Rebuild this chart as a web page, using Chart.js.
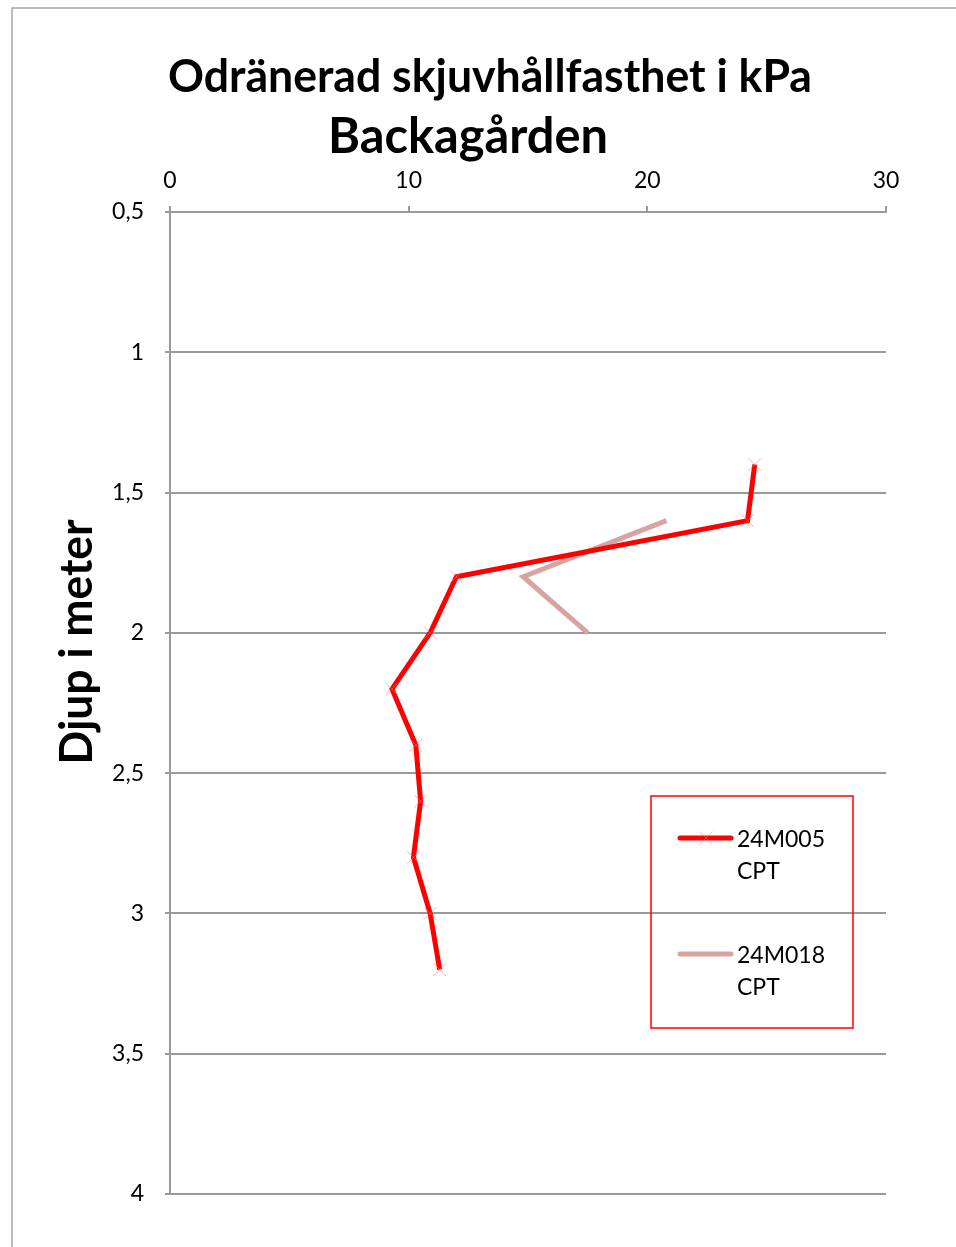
<!DOCTYPE html>
<html>
<head>
<meta charset="utf-8">
<script src="https://cdn.jsdelivr.net/npm/chart.js@4/dist/chart.umd.min.js"></script>
<style>
  html, body { margin: 0; padding: 0; background: #fff; }
  #wrap { position: relative; width: 956px; height: 1247px; }
  canvas { display: block; }
</style>
</head>
<body>
<div id="wrap"><canvas id="c" width="956" height="1247"></canvas></div>
<script>
// ---- data ----
const titleLines = ["Odränerad skjuvhållfasthet i kPa", "Backagården"];
const yAxisTitle = "Djup i meter";
const seriesLabels = ["24M005\nCPT", "24M018\nCPT"];
const depth24M005 = [1.4, 1.6, 1.8, 2.0, 2.2, 2.4, 2.6, 2.8, 3.0, 3.2];
const su24M005 = [24.5, 24.2, 12.0, 10.9, 9.3, 10.3, 10.5, 10.2, 10.9, 11.3];
const depth24M018 = [1.6, 1.8, 2.0];
const su24M018 = [20.8, 14.8, 17.5];
const xTicks = [0, 10, 20, 30];
const yTicks = [0.5, 1, 1.5, 2, 2.5, 3, 3.5, 4];

const toPts = (xs, ys) => xs.map((v, i) => ({ x: v, y: ys[i] }));

const FONT = 'Lato, "Open Sans", sans-serif';
const GRID = '#9a9a9a';

const decorPlugin = {
  id: 'decor',
  beforeDraw(chart) {
    const ctx = chart.ctx;
    ctx.save();
    ctx.fillStyle = '#fff';
    ctx.fillRect(0, 0, chart.width, chart.height);
    ctx.strokeStyle = '#a6a6a6';
    ctx.lineWidth = 1.5;
    ctx.beginPath();
    ctx.moveTo(12, chart.height);
    ctx.lineTo(12, 8);
    ctx.lineTo(chart.width, 8);
    ctx.stroke();
    ctx.restore();
  },
  afterDraw(chart) {
    const ctx = chart.ctx;
    ctx.save();
    ctx.fillStyle = '#000';
    ctx.textAlign = 'center';
    ctx.textBaseline = 'alphabetic';
    ctx.font = 'bold 46px ' + FONT;
    ctx.fillText(titleLines[0], 490, 92, 644);
    ctx.font = 'bold 50px ' + FONT;
    ctx.fillText(titleLines[1], 468, 153, 280);
    ctx.font = 'bold 46px ' + FONT;
    ctx.save();
    ctx.translate(92, 642);
    ctx.rotate(-Math.PI / 2);
    ctx.fillText(yAxisTitle, 0, 0, 245);
    ctx.restore();

    // Legend
    const lx = 651, ly = 796, lw = 202, lh = 232;
    ctx.strokeStyle = '#ff0000';
    ctx.lineWidth = 1.5;
    ctx.strokeRect(lx, ly, lw, lh);
    const rows = [838, 954];
    chart.data.datasets.forEach((ds, i) => {
      const y = rows[i];
      ctx.strokeStyle = ds.borderColor;
      ctx.lineWidth = ds.borderWidth;
      ctx.lineCap = 'round';
      ctx.beginPath();
      ctx.moveTo(680, y);
      ctx.lineTo(731, y);
      ctx.stroke();
      if (ds.pointRadius > 0) {
        ctx.strokeStyle = ds.pointBorderColor;
        ctx.lineWidth = 1;
        ctx.lineCap = 'butt';
        const r = 9, cx = 706;
        ctx.beginPath();
        ctx.moveTo(cx - r * 0.707, y - r * 0.707);
        ctx.lineTo(cx + r * 0.707, y + r * 0.707);
        ctx.moveTo(cx + r * 0.707, y - r * 0.707);
        ctx.lineTo(cx - r * 0.707, y + r * 0.707);
        ctx.stroke();
      }
      ctx.fillStyle = '#000';
      ctx.font = '23px ' + FONT;
      ctx.textAlign = 'left';
      ctx.textBaseline = 'alphabetic';
      ds.label.split('\n').forEach((t, k) => {
        ctx.fillText(t, 737, y + 9 + k * 32);
      });
    });
    ctx.restore();
  }
};

new Chart(document.getElementById('c'), {
  type: 'scatter',
  data: {
    datasets: [
      {
        label: seriesLabels[0],
        data: toPts(su24M005, depth24M005),
        showLine: true,
        borderColor: '#ff0000',
        backgroundColor: '#ff0000',
        borderWidth: 5,
        pointStyle: 'crossRot',
        pointRadius: 9,
        pointBorderColor: 'rgba(240,120,120,0.55)',
        pointBorderWidth: 1,
        pointHoverRadius: 9,
        tension: 0,
        clip: false
      },
      {
        label: seriesLabels[1],
        data: toPts(su24M018, depth24M018),
        showLine: true,
        borderColor: '#d8a3a0',
        backgroundColor: '#d8a3a0',
        borderWidth: 5,
        pointRadius: 0,
        pointHoverRadius: 0,
        tension: 0,
        clip: false
      }
    ]
  },
  options: {
    responsive: false,
    animation: false,
    devicePixelRatio: 1,
    layout: { padding: { left: 0, top: 0, right: 70, bottom: 53 } },
    plugins: {
      legend: { display: false },
      title: { display: false },
      tooltip: { enabled: false }
    },
    scales: {
      x: {
        type: 'linear',
        position: 'top',
        min: 0,
        max: 30,
        afterFit(s) { s.height = 212; },
        afterBuildTicks(s) { s.ticks = xTicks.map(v => ({ value: v })); },
        ticks: {
          font: { family: FONT, size: 23 },
          color: '#000',
          padding: 12
        },
        grid: {
          drawOnChartArea: false,
          drawTicks: true,
          tickLength: 6,
          color: GRID,
          lineWidth: 2
        },
        border: { display: true, color: GRID, width: 2 }
      },
      y: {
        type: 'linear',
        reverse: true,
        min: 0.5,
        max: 4,
        afterFit(s) { s.width = 170; },
        afterBuildTicks(s) { s.ticks = yTicks.map(v => ({ value: v })); },
        ticks: {
          font: { family: FONT, size: 23 },
          color: '#000',
          padding: 21,
          callback: v => String(v).replace('.', ',')
        },
        grid: {
          drawOnChartArea: true,
          drawTicks: true,
          tickLength: 5,
          color: GRID,
          lineWidth: 2
        },
        border: { display: true, color: GRID, width: 2 }
      }
    }
  },
  plugins: [decorPlugin]
});
</script>
</body>
</html>
